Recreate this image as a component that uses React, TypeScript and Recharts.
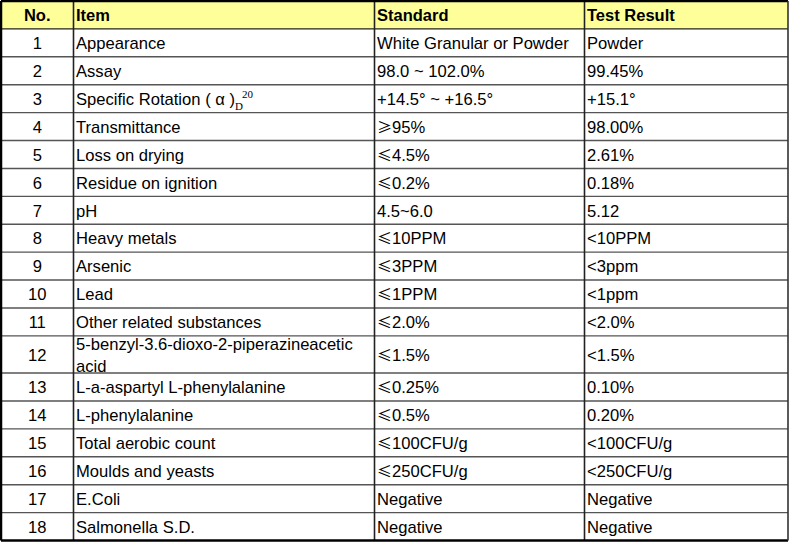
import React from "react";
import {
  ScatterChart, Scatter, XAxis, YAxis, ReferenceLine, ReferenceArea,
} from "recharts";

const headers = ["No.", "Item", "Standard", "Test Result"];

const rowNos = ["1", "2", "3", "4", "5", "6", "7", "8", "9", "10", "11", "12", "13", "14", "15", "16", "17", "18"];

const items = [
  "Appearance",
  "Assay",
  "Specific Rotation ( α )_D^20",
  "Transmittance",
  "Loss on drying",
  "Residue on ignition",
  "pH",
  "Heavy metals",
  "Arsenic",
  "Lead",
  "Other related substances",
  "5-benzyl-3.6-dioxo-2-piperazineacetic\nacid",
  "L-a-aspartyl L-phenylalanine",
  "L-phenylalanine",
  "Total aerobic count",
  "Moulds and yeasts",
  "E.Coli",
  "Salmonella S.D.",
];

const standards = [
  "White Granular or Powder",
  "98.0 ~ 102.0%",
  "+14.5° ~ +16.5°",
  "≥95%",
  "≤4.5%",
  "≤0.2%",
  "4.5~6.0",
  "≤10PPM",
  "≤3PPM",
  "≤1PPM",
  "≤2.0%",
  "≤1.5%",
  "≤0.25%",
  "≤0.5%",
  "≤100CFU/g",
  "≤250CFU/g",
  "Negative",
  "Negative",
];

const results = [
  "Powder",
  "99.45%",
  "+15.1°",
  "98.00%",
  "2.61%",
  "0.18%",
  "5.12",
  "<10PPM",
  "<3ppm",
  "<1ppm",
  "<2.0%",
  "<1.5%",
  "0.10%",
  "0.20%",
  "<100CFU/g",
  "<250CFU/g",
  "Negative",
  "Negative",
];

// layout
const W = 789;
const H = 544;
const TABLE_W = 787;
const colEdges = [0, 72.5, 373.5, 583.5, TABLE_W];
const PAD = 2.5;
const FONT = "'Liberation Sans', Arial, sans-serif";
const FS = 16.6;
const HEADER_BG = "#FFFF99";

// build row bands (header + body), taller rows for wrapped item text
const allRows = [headers, ...rowNos.map((n, i) => [n, items[i], standards[i], results[i]])];
let acc = 0;
const bands = allRows.map((cells) => {
  const lines = Math.max(...cells.map((c) => c.split("\n").length));
  const h = 1 + (lines - 1) / 3;
  const b = { y0: acc, y1: acc + h, mid: acc + h / 2, cells };
  acc += h;
  return b;
});
const TOTAL = acc;

// ≤ / ≥ drawn with the CJK face, which has the slanted wide glyph
const withSymbols = (s: string, key: number) =>
  s.split(/([≤≥])/).filter(Boolean).map((q, j) =>
    q === "≤" || q === "≥" ? (
      <tspan key={`${key}-${j}`} fontFamily="'Noto Sans CJK SC', sans-serif" fontSize={15}>{q}</tspan>
    ) : (
      <tspan key={`${key}-${j}`}>{q}</tspan>
    )
  );

const renderRich = (text: string) => {
  const parts = text.split(/(_[A-Za-z]+|\^[0-9A-Za-z]+)/).filter(Boolean);
  let shift = 0;
  return parts.map((p, i) => {
    if (p.startsWith("_")) {
      const dy = 5 - shift;
      shift = 5;
      return (
        <tspan key={i} dy={dy} fontSize={11} fontFamily="'Liberation Serif', serif">{p.slice(1)}</tspan>
      );
    }
    if (p.startsWith("^")) {
      const dy = -7 - shift;
      shift = -7;
      return (
        <tspan key={i} dy={dy} dx={-1} fontSize={11} fontFamily="'Liberation Serif', serif">{p.slice(1)}</tspan>
      );
    }
    const dy = -shift;
    shift = 0;
    return <tspan key={i} dy={dy}>{withSymbols(p, i)}</tspan>;
  });
};

const makeCell = (anchor: "start" | "middle", bold: boolean) => (props: any) => {
  const { cx, cy, payload } = props;
  if (cx == null || cy == null) return <g />;
  const lines: string[] = String(payload.text).split("\n");
  const lh = 21.7;
  return (
    <text
      textAnchor={anchor}
      fontFamily={FONT}
      fontSize={bold ? 16.5 : FS}
      fontWeight={bold ? 700 : 400}
      fill="#000"
    >
      {lines.map((ln, i) => (
        <tspan key={i} x={cx} y={cy + 6.3 + (i - (lines.length - 1) / 2) * lh}>
          {renderRich(ln)}
        </tspan>
      ))}
    </text>
  );
};

const colData = (ci: number, header: boolean) =>
  bands
    .filter((_, ri) => (header ? ri === 0 : ri > 0))
    .map((b) => ({
      x: ci === 0 ? (colEdges[0] + colEdges[1]) / 2 : colEdges[ci] + PAD,
      y: b.mid,
      text: b.cells[ci],
    }));

export default function App() {
  return (
    <div style={{ position: "absolute", left: 0, top: 0, background: "#fff" }}>
      <ScatterChart width={W} height={H} margin={{ top: 1, right: 1, bottom: 3.5, left: 1 }}>
        <XAxis dataKey="x" type="number" domain={[0, TABLE_W]} hide />
        <YAxis dataKey="y" type="number" domain={[0, TOTAL]} reversed hide />
        <ReferenceArea x1={0} x2={TABLE_W} y1={0} y2={bands[0].y1} fill={HEADER_BG} fillOpacity={1} stroke="none" />
        {bands.slice(1).map((b, i) => (
          <ReferenceLine key={`h${i}`} y={b.y0} stroke={i === 0 ? "#222" : "#555"} strokeWidth={1.4} />
        ))}
        {colEdges.slice(1, -1).map((x, i) => (
          <ReferenceLine key={`v${i}`} x={x} stroke="#222" strokeWidth={1.6} />
        ))}
        <ReferenceLine y={0} stroke="#000" strokeWidth={2.5} />
        <ReferenceLine y={TOTAL} stroke="#000" strokeWidth={2.5} />
        <ReferenceLine x={0} stroke="#000" strokeWidth={2.5} />
        <ReferenceLine x={TABLE_W} stroke="#333" strokeWidth={1.6} />
        {headers.map((_, ci) => (
          <Scatter
            key={`hd${ci}`}
            data={colData(ci, true)}
            isAnimationActive={false}
            shape={makeCell(ci === 0 ? "middle" : "start", true)}
          />
        ))}
        {headers.map((_, ci) => (
          <Scatter
            key={`bd${ci}`}
            data={colData(ci, false)}
            isAnimationActive={false}
            shape={makeCell(ci === 0 ? "middle" : "start", false)}
          />
        ))}
      </ScatterChart>
    </div>
  );
}
